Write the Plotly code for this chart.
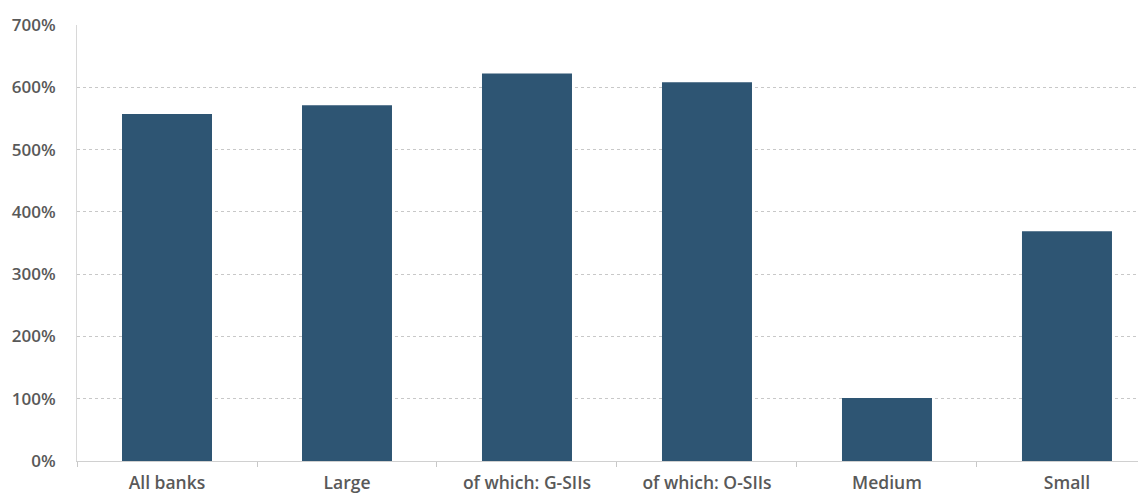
import plotly.graph_objects as go

categories = ["All banks", "Large", "of which: G-SIIs", "of which: O-SIIs", "Medium", "Small"]
values = [557, 571, 622, 608, 101, 369]

fig = go.Figure()
fig.add_trace(go.Bar(
    x=categories, y=values, width=0.5,
    marker=dict(color="#2E5573", line=dict(width=0)),
))

fig.update_layout(
    width=1138, height=487,
    margin=dict(l=69, r=0, t=17, b=34, autoexpand=False),
    plot_bgcolor="white", paper_bgcolor="white",
    showlegend=False,
    font=dict(family="Open Sans", size=16, color="#595959"),
    bargap=0.5,
)
fig.update_xaxes(
    type="category", range=[-0.5, 5.439], automargin=False,
    showgrid=False, showline=True, linecolor="#d0d0d0", linewidth=1,
    ticks="outside", tickson="boundaries", ticklen=5, tickcolor="#c8c8c8",
    ticklabelstandoff=6,
    tickfont=dict(family="Open Sans", size=17.5, color="#595959", weight=600),
)
fig.update_yaxes(
    range=[0, 700], dtick=100, ticksuffix="%", automargin=False,
    showgrid=True, gridcolor="#c8c8c8", griddash="dot", gridwidth=1,
    showline=True, linecolor="#d8d8d8", linewidth=1,
    zeroline=False, ticks="", ticklabelstandoff=17,
    tickfont=dict(family="Open Sans", size=17, color="#595959", weight=600),
)
fig.write_html("out.html")
